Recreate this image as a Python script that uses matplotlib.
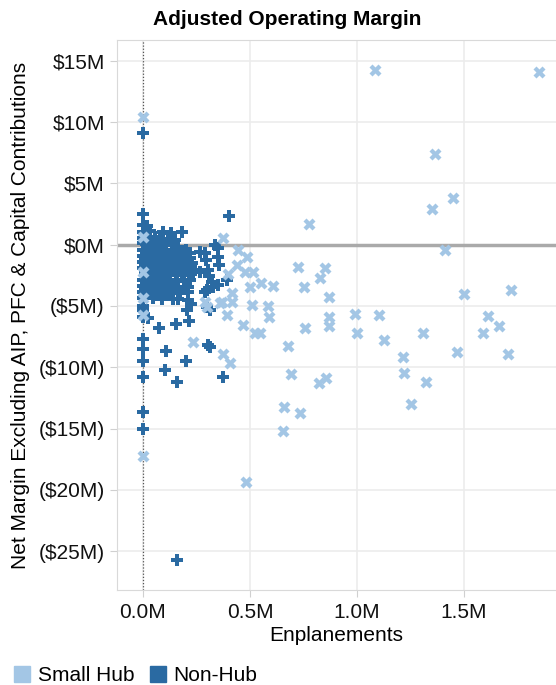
import numpy as np
import matplotlib
matplotlib.use("Agg")
import matplotlib.pyplot as plt
from matplotlib.ticker import FuncFormatter, MultipleLocator
from matplotlib.lines import Line2D

plt.rcParams['font.family'] = ['Liberation Sans', 'DejaVu Sans']

# enplanements (millions) and net margin (millions)
small_hub_x = [1.086, 1.851, 0.0, 1.366, 1.352, 1.450, 0.774, 1.413, 0.723, 0.849,
               0.825, 0.751, 0.867, 1.501, 1.720, 0.993, 1.105, 0.867, 0.867, 0.755,
               1.002, 1.128, 1.310, 1.613, 1.664, 1.590, 1.469, 1.706, 0.676, 1.217,
               1.221, 1.324, 1.254, 0.690, 0.821, 0.853, 0.657, 0.732, 0.653, 0.0,
               0.480, 0.485, 0.476, 0.513, 0.499, 0.550, 0.606, 0.508, 0.583, 0.587,
               0.466, 0.522, 0.545, 0.373, 0.443, 0.438, 0.396, 0.415, 0.368, 0.415,
               0.0, 0.0, 0.0, 0.0, 0.233, 0.373, 0.406, 0.289, 0.298, 0.359, 0.392]
small_hub_y = [14.26, 14.10, 10.43, 7.42, 2.93, 3.83, 1.71, -0.41, -1.79, -1.87,
               -2.69, -3.42, -4.24, -3.99, -3.67, -5.62, -5.70, -5.87, -6.60, -6.76,
               -7.17, -7.74, -7.17, -5.79, -6.60, -7.17, -8.72, -8.88, -8.23, -9.13,
               -10.43, -11.17, -12.96, -10.59, -11.25, -10.84, -13.28, -13.77, -15.16, -17.20,
               -19.32, -0.98, -2.20, -2.20, -3.42, -3.10, -3.34, -4.89, -4.97, -5.87,
               -6.52, -7.17, -7.17, 0.57, -0.41, -1.63, -2.36, -3.91, -4.65, -4.65,
               0.65, -2.20, -4.32, -5.70, -7.91, -8.88, -9.62, -4.65, -5.05, -4.73, -5.70]

non_hub_x = [0.0, 0.0, 0.401, 0.093, 0.131, 0.182, 0.336, 0.350, 0.350, 0.354,
             0.322, 0.350, 0.392, 0.298, 0.326, 0.303, 0.294, 0.266, 0.289, 0.308,
             0.233, 0.196, 0.219, 0.159, 0.210, 0.140, 0.163, 0.210, 0.224, 0.205,
             0.289, 0.298, 0.312, 0.214, 0.154, 0.075, 0.023, 0.0, 0.0, 0.0,
             0.0, 0.0, 0.0, 0.0, 0.107, 0.200, 0.103, 0.159, 0.303, 0.312,
             0.373, 0.0, 0.0, 0.159,
             # dense cluster near the origin
             0.0, 0.019, 0.0, 0.033, 0.0, 0.028, 0.056, 0.079,
             0.0, 0.014, 0.042, 0.070, 0.103, 0.135, 0.163,
             0.0, 0.023, 0.051, 0.079, 0.107, 0.135, 0.163, 0.200,
             0.0, 0.019, 0.047, 0.075, 0.103, 0.131, 0.159, 0.186, 0.219,
             0.0, 0.023, 0.056, 0.084, 0.112, 0.140, 0.168, 0.196, 0.228,
             0.0, 0.028, 0.061, 0.089, 0.117, 0.145, 0.172, 0.200, 0.242,
             0.009, 0.033, 0.065, 0.093, 0.126, 0.154, 0.182, 0.214, 0.266,
             0.0, 0.033, 0.065, 0.098, 0.126, 0.159, 0.191, 0.219,
             0.0, 0.023, 0.056, 0.089, 0.126, 0.163, 0.210,
             0.0, 0.033, 0.079, 0.117, 0.172, 0.210,
             0.0, 0.047, 0.089, 0.140,
             0.012, 0.040, 0.068, 0.012, 0.040, 0.068, 0.096, 0.012, 0.045, 0.080,
             0.010, 0.036, 0.062, 0.090, 0.118, 0.150,
             0.008, 0.038, 0.066, 0.094, 0.122, 0.150, 0.178,
             0.010, 0.036, 0.064, 0.092, 0.120, 0.148, 0.176, 0.206,
             0.008, 0.040, 0.072, 0.104, 0.136, 0.168,
             0.010, 0.042, 0.075, 0.108, 0.142, 0.190,
             0.012, 0.060, 0.105]
non_hub_y = [9.13, 2.53, 2.36, 1.06, 0.98, 1.06, 0.0, -0.24, -0.98, -1.63,
             -3.02, -3.26, -2.85, -3.67, -3.42, -2.04, -1.22, -0.57, -0.65, -2.53,
             -2.20, -1.39, -0.65, -0.24, -3.83, -4.40, -4.40, -4.48, -4.81, -5.30,
             -3.83, -5.05, -5.30, -6.19, -6.44, -6.76, -5.95, -4.97, -5.30, -5.87,
             -7.66, -8.48, -9.45, -10.76, -8.64, -9.45, -10.19, -11.17, -8.15, -8.31,
             -10.76, -13.61, -15.00, -25.75,
             1.63, 1.55, 1.06, 1.14, 0.57, 0.57, 0.65, 0.49,
             0.16, 0.08, 0.16, 0.08, 0.16, 0.08, -0.16,
             -0.41, -0.41, -0.49, -0.33, -0.41, -0.49, -0.57, -0.41,
             -0.90, -0.98, -0.90, -0.98, -0.90, -0.98, -1.06, -0.90, -1.06,
             -1.39, -1.39, -1.47, -1.39, -1.47, -1.39, -1.47, -1.39, -1.47,
             -1.87, -1.87, -1.87, -1.96, -1.87, -1.96, -1.87, -1.96, -2.04,
             -2.36, -2.28, -2.44, -2.36, -2.44, -2.36, -2.44, -2.36, -2.20,
             -2.85, -2.93, -2.85, -2.93, -2.85, -2.93, -2.85, -2.85,
             -3.34, -3.42, -3.34, -3.42, -3.34, -3.42, -3.42,
             -3.83, -3.83, -3.91, -3.83, -3.91, -3.83,
             -4.32, -4.32, -4.40, -4.40,
             -0.65, -0.70, -0.68, -2.60, -2.62, -2.58, -2.64, -3.10, -3.15, -3.12,
             0.35, 0.30, 0.33, 0.28, 0.32, 0.36,
             -1.15, -1.18, -1.12, -1.20, -1.16, -1.14, -1.22,
             -1.65, -1.62, -1.68, -1.64, -1.70, -1.66, -1.63, -1.72,
             -2.10, -2.14, -2.12, -2.16, -2.10, -2.14,
             -3.58, -3.62, -3.60, -3.64, -3.60, -3.62,
             -4.05, -4.10, -4.08]

series_names = ["Small Hub", "Non-Hub"]
light_blue = "#a3c6e5"
dark_blue = "#2a6aa2"

fig = plt.figure(figsize=(5.56, 6.85), dpi=100)
ax = fig.add_axes([0.211, 0.138, 0.789, 0.803])

ax.scatter(non_hub_x, non_hub_y, marker="P", s=80, color=dark_blue, linewidths=0, zorder=3)
ax.scatter(small_hub_x, small_hub_y, marker="X", s=75, color=light_blue, linewidths=0, zorder=4)

ax.set_xlim(-0.12, 1.93)
ax.set_ylim(-28.2, 16.65)
ax.xaxis.set_major_locator(MultipleLocator(0.5))
ax.yaxis.set_major_locator(MultipleLocator(5))


def money(v, pos):
    if v < 0:
        return "(${:.0f}M)".format(-v)
    return "${:.0f}M".format(v)


ax.yaxis.set_major_formatter(FuncFormatter(money))
ax.xaxis.set_major_formatter(FuncFormatter(lambda v, p: "{:.1f}M".format(v)))

ax.grid(True, color="#ececec", linewidth=1.2, zorder=0)
ax.set_axisbelow(True)
ax.axhline(0, color="#aaaaaa", linewidth=2.5, zorder=2)
ax.axvline(0, color="#555555", linewidth=0.9, linestyle=(0, (1, 1.5)), zorder=2)

for s in ax.spines.values():
    s.set_color("#d9d9d9")
ax.spines["right"].set_visible(False)
ax.tick_params(colors="#d0d0d0", labelcolor="#111111", labelsize=15, length=5, pad=4)

ax.set_xlabel("Enplanements", fontsize=15, labelpad=3)
ax.set_ylabel("Net Margin Excluding AIP, PFC & Capital Contributions", fontsize=15, labelpad=6)

fig.text(0.516, 0.971, "Adjusted Operating Margin", ha="center", va="center",
         fontsize=15, fontweight="bold")

handles = [Line2D([], [], marker="s", linestyle="", markersize=12, color=c) for c in (light_blue, dark_blue)]
fig.legend(handles, series_names, loc="lower left", bbox_to_anchor=(0.0, -0.022), ncol=2,
           frameon=False, fontsize=15, handlelength=0.7, handletextpad=0.4, columnspacing=0.8,
           borderaxespad=0.3)

fig.savefig("out.png", dpi=100)
